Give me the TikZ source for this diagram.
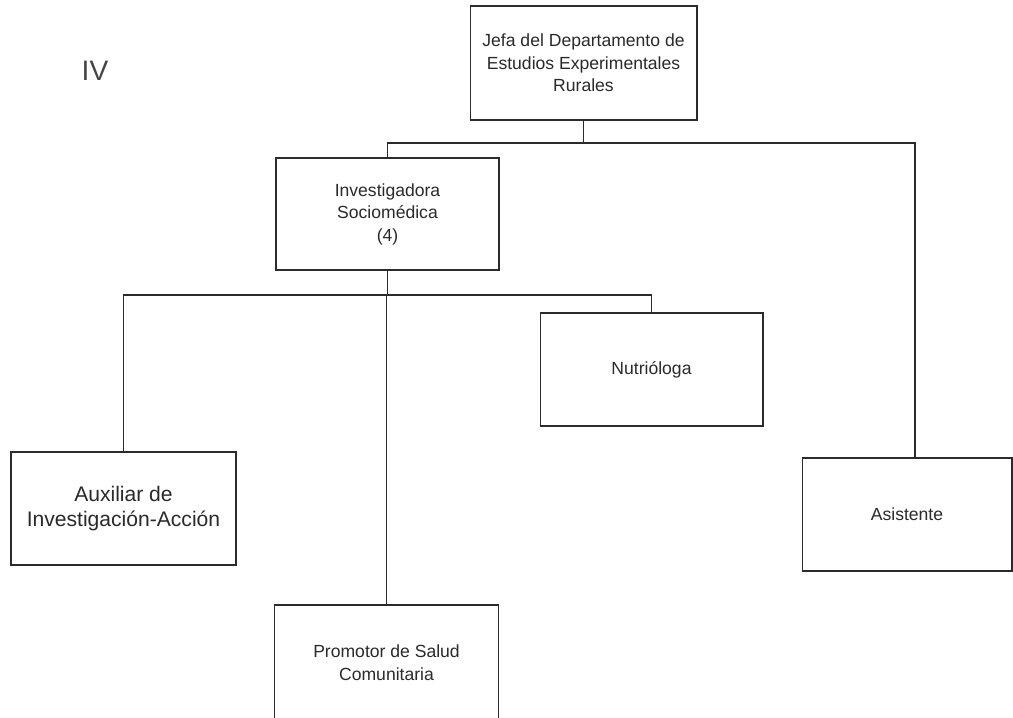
\documentclass[tikz,border=0pt]{standalone}
\usepackage{fontspec}
\setmainfont{Liberation Sans}
\usepackage{xcolor}
\usetikzlibrary{positioning}
\definecolor{boxline}{HTML}{2B2B2B}
\definecolor{orgtext}{HTML}{2A2A2A}
\definecolor{labelgrey}{HTML}{444444}
\tikzset{
  org box/.style   = {draw=boxline, line width=0.6pt, fill=white, align=center,
                      inner sep=2pt, text=orgtext, font=\fontsize{10}{12.8}\selectfont},
  big box/.style   = {org box, font=\fontsize{12}{14.7}\selectfont},
  link/.style      = {boxline, line width=0.75pt},
}

\begin{document}
\begin{tikzpicture}[x=0.02cm, y=-0.02cm]
    \useasboundingbox (0,0) rectangle (1013,717);
    \node[labelgrey, font=\fontsize{16}{18}\selectfont] (level) at (95,71) {IV};
    % boxes
    \node[org box, minimum width=4.54cm, minimum height=2.28cm] (jefa) at (583.5,63)
      {Jefa del Departamento de\\Estudios Experimentales\\Rurales};
    \node[org box, minimum width=4.46cm, minimum height=2.24cm] (inv) at (387.5,214)
      {Investigadora\\Sociomédica\\(4)};
    \node[org box, minimum width=4.46cm, minimum height=2.26cm] (nutr) at (651.5,369.5)
      {Nutrióloga};
    \node[big box, minimum width=4.5cm, minimum height=2.26cm] (aux) at (123.5,508.5)
      {Auxiliar de\\Investigación-Acción};
    \node[org box, minimum width=4.2cm, minimum height=2.26cm] (asis) at (907,514.5)
      {Asistente};
    \node[org box, minimum width=4.48cm, minimum height=2.3cm] (prom) at (386.5,662.5)
      {Promotor de Salud\\Comunitaria};
    % connectors
    \coordinate (bus top) at (583.5,143);
    \coordinate (bus mid) at (387.5,295);
    \draw[link] (jefa.south) -- (bus top);
    \draw[link] (bus top) -| (inv.north);
    \draw[link] (bus top) -| ([xshift=0.16cm]asis.north);
    \draw[link] (inv.south) -- (bus mid);
    \draw[link] (bus mid) -| (aux.north);
    \draw[link] (bus mid) -| (nutr.north);
    \draw[link] (bus mid) -| (prom.north);
\end{tikzpicture}
\end{document}
